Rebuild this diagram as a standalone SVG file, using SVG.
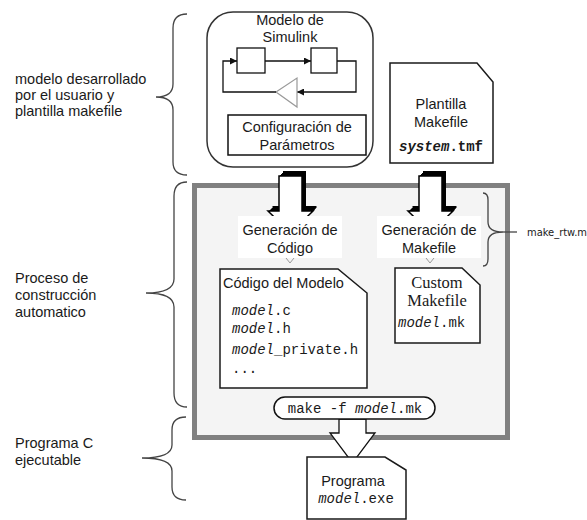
<svg xmlns="http://www.w3.org/2000/svg" xmlns:xlink="http://www.w3.org/1999/xlink" width="587" height="520" viewBox="0 0 587 520">
  <style>
    .lbl { font-family: "Liberation Sans", Arial, sans-serif; font-size: 14.5px; fill: #1a1a1a; }
    .side { font-family: "Liberation Sans", Arial, sans-serif; font-size: 14.5px; fill: #1a1a1a; }
    .mono { font-family: "Liberation Mono", "Courier New", monospace; font-size: 14px; fill: #1a1a1a; }
    .it { font-style: italic; }
    .serif { font-family: "Liberation Serif", "Times New Roman", serif; font-size: 16.5px; fill: #1a1a1a; }
    .doc { fill: #ffffff; stroke: #1a1a1a; stroke-width: 1.5; }
    .brace { fill: none; stroke: #444; stroke-width: 1.3; }
    .line { fill: none; stroke: #111; stroke-width: 1.3; }
    .chev { fill: none; stroke: #999; stroke-width: 1; }
  </style>
  <defs>
    <marker id="ah" viewBox="0 0 10 10" refX="10" refY="5" markerWidth="7" markerHeight="7" orient="auto" markerUnits="userSpaceOnUse">
      <path d="M0,0 L10,5 L0,10 Z" fill="#111"/>
    </marker>
    <!-- block arrow outline, shaft from x=0 to x=23 -->
    <path id="blk" d="M0,5 L23,5 L23,40 L34,40 L11.5,62 L-11,40 L0,40 Z"/>
    <g id="blockArrow">
      <use xlink:href="#blk" x="1" y="-1" fill="#000"/>
      <use xlink:href="#blk" x="2" y="-2" fill="#000"/>
      <use xlink:href="#blk" x="3" y="-3" fill="#000"/>
      <use xlink:href="#blk" x="4" y="-4" fill="#000"/>
      <use xlink:href="#blk" x="4" y="-5" fill="#000"/>
      <use xlink:href="#blk" fill="#fff" stroke="#000" stroke-width="1.5"/>
    </g>
  </defs>

  <rect width="587" height="520" fill="#ffffff"/>

  <!-- left-hand braces and stage labels -->
  <g id="stage-input">
    <path class="brace" d="M187,14 Q173,14 173,28 L173,84 Q173,97 156,97 Q173,97 173,110 L173,162 Q173,175 187,175"/>
    <text class="side" x="15" y="84">modelo desarrollado</text>
    <text class="side" x="15" y="100">por el usuario y</text>
    <text class="side" x="15" y="116">plantilla makefile</text>
  </g>
  <g id="stage-build">
    <path class="brace" d="M187,182 Q174,182 174,196 L174,279 Q174,293 146,293 Q174,293 174,307 L174,393 Q174,407 187,407"/>
    <text class="side" x="15" y="283">Proceso de</text>
    <text class="side" x="15" y="300">construcción</text>
    <text class="side" x="15" y="317">automatico</text>
  </g>
  <g id="stage-output">
    <path class="brace" d="M186,417 Q172,417 172,430 L172,445 Q172,458 142,458 Q172,458 172,471 L172,487 Q172,500 186,500"/>
    <text class="side" x="15" y="448">Programa C</text>
    <text class="side" x="15" y="465">ejecutable</text>
  </g>

  <!-- Simulink model -->
  <g id="simulink-model">
    <rect x="207" y="12" width="166" height="155" rx="26" ry="26" fill="#fff" stroke="#333" stroke-width="1.5"/>
    <text class="lbl" x="290" y="25" text-anchor="middle">Modelo de</text>
    <text class="lbl" x="290" y="42" text-anchor="middle">Simulink</text>
    <rect x="237" y="48" width="28" height="25" fill="#fff" stroke="#111" stroke-width="1.3"/>
    <rect x="311" y="48" width="26" height="25" fill="#fff" stroke="#111" stroke-width="1.3"/>
    <path class="line" d="M265,61 L311,61" marker-end="url(#ah)"/>
    <path class="line" d="M337,61 L356,61 L356,92 L297,92" marker-end="url(#ah)"/>
    <path d="M297,78 L297,107 L276,92 Z" fill="#fff" stroke="#999" stroke-width="1.2"/>
    <path class="line" d="M276,92 L223,92 L223,61 L237,61" marker-end="url(#ah)"/>
    <rect x="228" y="115" width="138" height="40" fill="#fff" stroke="#111" stroke-width="1.5"/>
    <text class="lbl" x="297" y="132" text-anchor="middle">Configuración de</text>
    <text class="lbl" x="297" y="150" text-anchor="middle">Parámetros</text>
  </g>

  <!-- makefile template -->
  <g id="template-makefile">
    <path class="doc" d="M390,63 L477,63 L493,82 L493,163 L390,163 Z"/>
    <text class="lbl" x="441" y="109" text-anchor="middle">Plantilla</text>
    <text class="lbl" x="441" y="127" text-anchor="middle">Makefile</text>
    <text class="mono" x="441" y="151" text-anchor="middle" font-weight="bold"><tspan class="it">system</tspan>.tmf</text>
  </g>

  <!-- build process container -->
  <g id="build-process">
    <rect x="194.5" y="185.5" width="313" height="252" fill="#f4f4f4" stroke="#808080" stroke-width="5"/>
  </g>

  <!-- connectors -->
  <g id="connectors">
    <use xlink:href="#blockArrow" transform="translate(279,171)"/>
    <use xlink:href="#blockArrow" transform="translate(419,171)"/>
    <path class="chev" d="M286,258 L290,263 L294,258"/>
    <path class="chev" d="M426,258 L430,263 L434,258"/>
    <path d="M339,419 L366,419 L366,433 L375,433 L352.5,463 L330,433 L339,433 Z" fill="#fff" stroke="#111" stroke-width="1.3"/>
    <path class="brace" d="M483,193 Q488,193 488,200 L488,222 Q488,232 503,232 Q488,232 488,242 L488,259 Q488,266 483,266"/>
    <path class="brace" d="M503,232 L517,232"/>
  </g>

  <g id="code-generation">
    <rect x="238" y="216" width="104" height="42" fill="#fff"/>
    <text class="lbl" x="290" y="235" text-anchor="middle">Generación de</text>
    <text class="lbl" x="290" y="253" text-anchor="middle">Código</text>
  </g>
  <g id="makefile-generation">
    <rect x="377" y="216" width="104" height="42" fill="#fff"/>
    <text class="lbl" x="429" y="235" text-anchor="middle">Generación de</text>
    <text class="lbl" x="429" y="253" text-anchor="middle">Makefile</text>
  </g>

  <g id="model-code">
    <path class="doc" d="M220,269 L338,269 L367,293 L367,388 L220,388 Z"/>
    <text class="lbl" x="223" y="288" font-size="14px">Código del Modelo</text>
    <text class="mono" x="232" y="315"><tspan class="it">model</tspan>.c</text>
    <text class="mono" x="232" y="333"><tspan class="it">model</tspan>.h</text>
    <text class="mono" x="232" y="354"><tspan class="it">model</tspan>_private.h</text>
    <text class="mono" x="232" y="373">...</text>
  </g>

  <g id="custom-makefile">
    <path class="doc" d="M395,268 L462,268 L480,285 L480,343 L395,343 Z"/>
    <text class="serif" x="437" y="288" text-anchor="middle">Custom</text>
    <text class="serif" x="437" y="306" text-anchor="middle">Makefile</text>
    <text class="mono" x="398" y="327"><tspan class="it">model</tspan>.mk</text>
  </g>

  <g id="make-command">
    <rect x="274" y="397" width="161" height="22" rx="11" ry="11" fill="#fff" stroke="#111" stroke-width="1.5"/>
    <text class="mono" x="355" y="413" text-anchor="middle">make -f <tspan class="it">model</tspan>.mk</text>
  </g>

  <g id="make-rtw">
    <text x="527" y="236" font-family="'DejaVu Sans Condensed', 'DejaVu Sans', sans-serif" font-size="10.5px" fill="#1a1a1a" textLength="60" lengthAdjust="spacingAndGlyphs">make_rtw.m</text>
  </g>

  <g id="executable">
    <path class="doc" d="M307,457 L385,457 L406,470 L406,519 L307,519 Z"/>
    <text class="lbl" x="353" y="486" text-anchor="middle">Programa</text>
    <text class="mono" x="356" y="503" text-anchor="middle"><tspan class="it">model</tspan>.exe</text>
  </g>
</svg>
